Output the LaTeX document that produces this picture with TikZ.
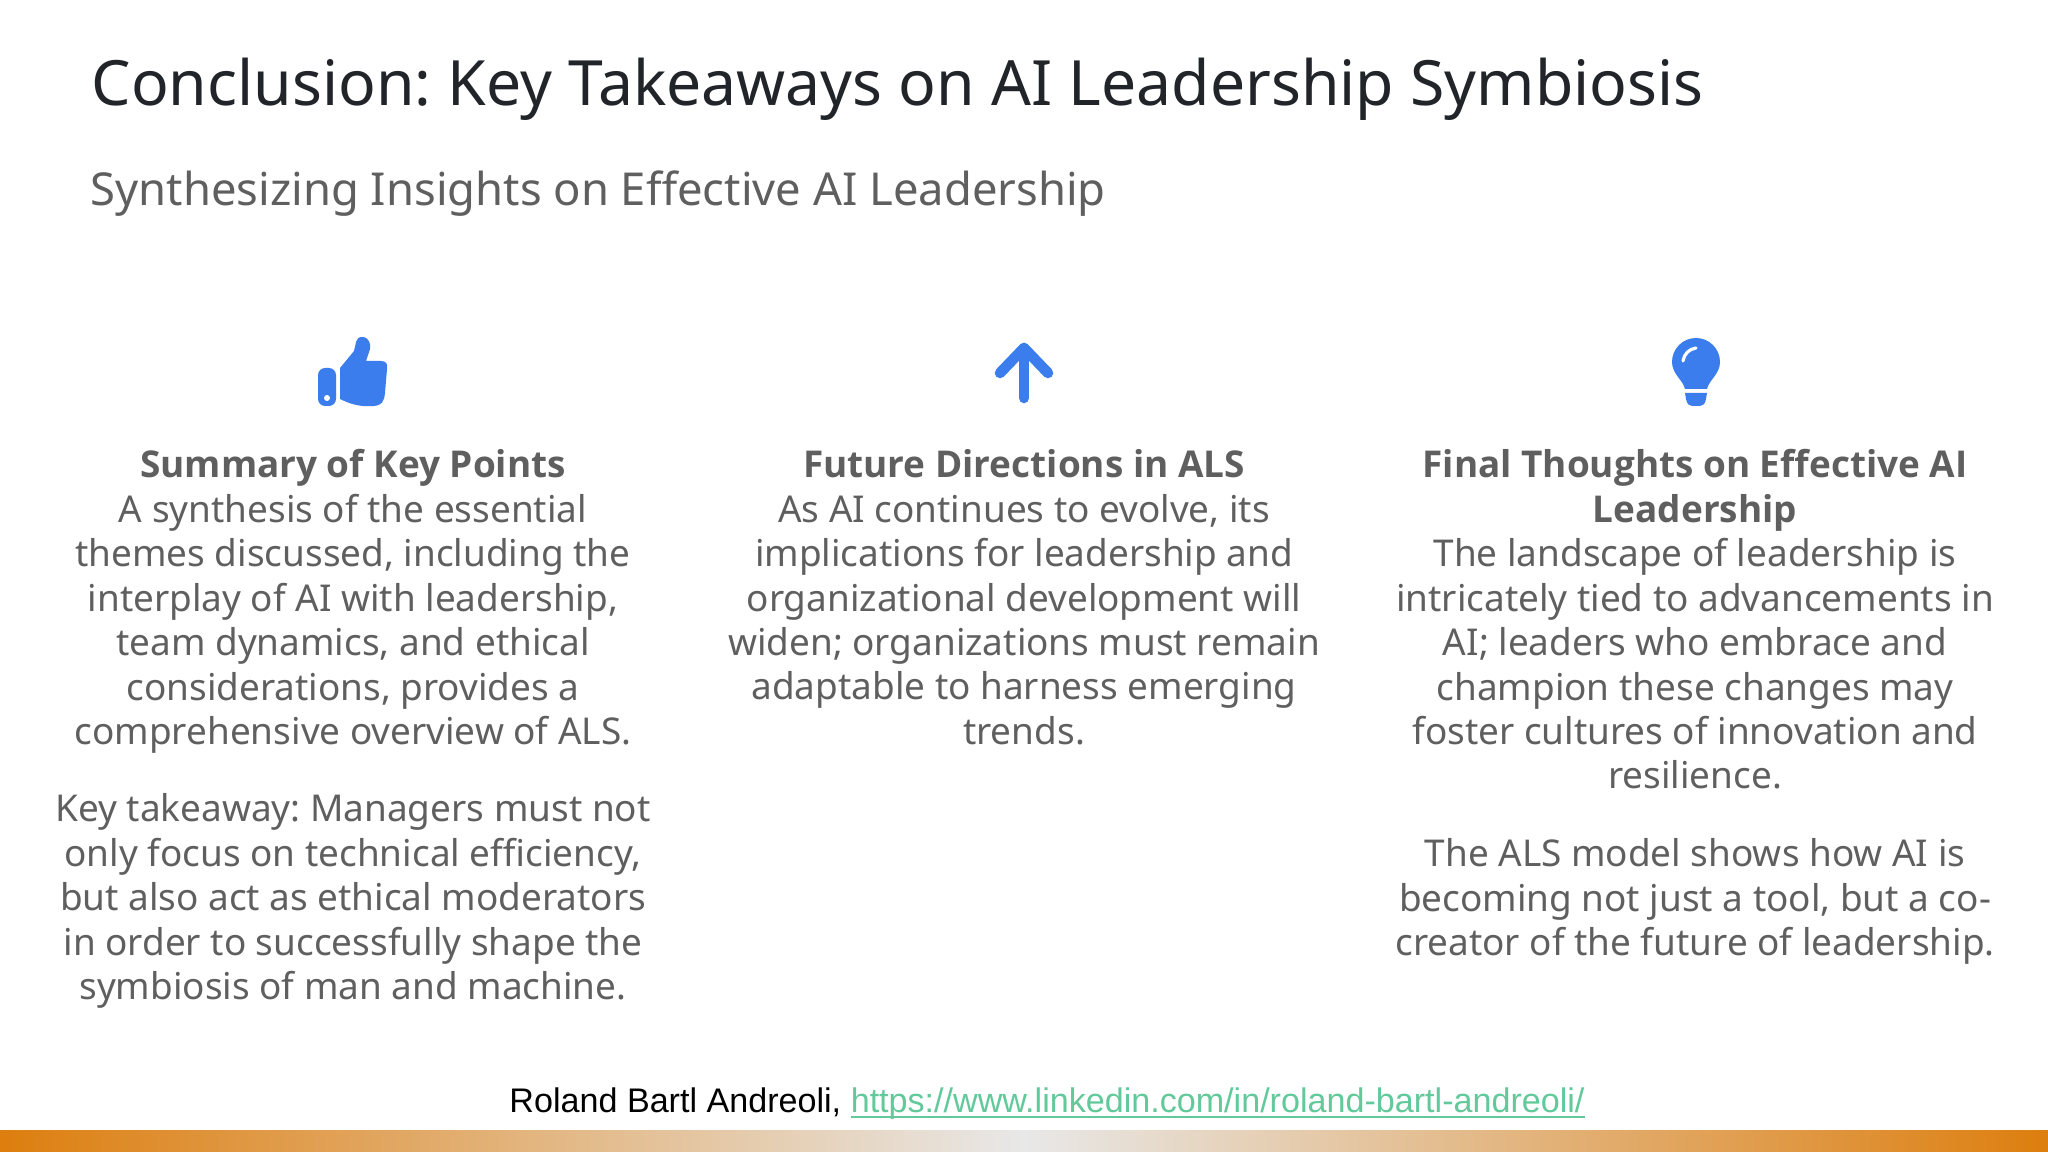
\documentclass[tikz,border=0pt]{standalone}
\usepackage{fontspec}
\setmainfont{Noto Sans}
\newfontfamily\headfont{Open Sans}
\newfontfamily\footfont{Liberation Sans}
\definecolor{title_c}{HTML}{212529}
\definecolor{body_c}{HTML}{5F5F5F}
\definecolor{icon_c}{HTML}{3B7DED}
\definecolor{link_c}{HTML}{62C99B}
\definecolor{band_c}{HTML}{DD7E0E}
\definecolor{mid_c}{HTML}{E8E8E8}
\usetikzlibrary{positioning}
\newcommand{\headline}[1]{{\headfont\bfseries #1}}
\frenchspacing

\begin{document}
\begin{tikzpicture}[
	x=0.01cm, y=-0.01cm,
	title/.style = {anchor=base west, inner sep=0pt, text=title_c, font=\fontsize{17.76}{20}\selectfont},
	subtitle/.style = {anchor=base west, inner sep=0pt, text=body_c, font=\fontsize{12.9}{16}\selectfont},
	body/.style = {anchor=north, inner sep=0pt, align=center, text=body_c, font=\fontsize{10.5}{12.63}\selectfont},
	icon/.style = {fill=icon_c, draw=none},
	]
	\useasboundingbox (0,0) rectangle (2048,1152);
	\fill[white] (0,0) rectangle (2048,1152);
	% header
	\node[title] (head) at (91,106) {Conclusion: Key Takeaways on AI Leadership Symbiosis};
	\node[subtitle] (sub) at (90,206) {Synthesizing Insights on Effective AI Leadership};
	% thumb
	\fill[icon, rounded corners=2pt] (318,368) rectangle (336,406);
	\fill[white] (327,398) circle(3);
	\fill[icon] (340,368) -- (354,351) .. controls (356,345) and (355,337) .. (362,337)
		.. controls (369,337) and (371,344) .. (370,349) -- (366,361) -- (381,361)
		.. controls (386,361) and (388,364) .. (387,369) -- (385,393)
		.. controls (384,402) and (382,405) .. (374,406)
		.. controls (362,407) and (352,405) .. (340,399) -- cycle;
	% arrow
	\draw[icon_c, line width=3pt, line cap=round, line join=round] (1024,398) -- (1024,348);
	\draw[icon_c, line width=3pt, line cap=round, line join=round] (1000,373) -- (1024,348) -- (1048,373);
	% bulb
	\fill[icon] (1685,389) .. controls (1683,380) and (1672,374) .. (1672,362)
		arc[start angle=180, end angle=360, radius=24]
		.. controls (1720,374) and (1709,380) .. (1707,389) -- cycle;
	\fill[icon] (1685,393) -- (1707,393) -- (1706,399) .. controls (1705,404) and (1703,406) .. (1700,406)
		-- (1692,406) .. controls (1689,406) and (1687,404) .. (1686,399) -- cycle;
	\draw[white, line width=0.9pt, line cap=round] (1683,361) .. controls (1684,354) and (1689,349) .. (1696,348);
	% columns
	\node[body] (left) at (353,449) {\headline{Summary of Key Points}\\A synthesis of the essential\\themes discussed, including the\\interplay of AI with leadership,\\team dynamics, and ethical\\considerations, provides a\\comprehensive overview of ALS.};
	\node[body] (takeaway) at (353,793) {Key takeaway: Managers must not\\only focus on technical efficiency,\\but also act as ethical moderators\\in order to successfully shape the\\symbiosis of man and machine.};
	\node[body] (mid) at (1024,449) {\headline{Future Directions in ALS}\\As AI continues to evolve, its\\implications for leadership and\\organizational development will\\widen; organizations must remain\\adaptable to harness emerging\\trends.};
	\node[body] (right) at (1695,449) {\headline{Final Thoughts on Effective AI}\\\headline{Leadership}\\The landscape of leadership is\\intricately tied to advancements in\\AI; leaders who embrace and\\champion these changes may\\foster cultures of innovation and\\resilience.};
	\node[body] (model) at (1695,838) {The ALS model shows how AI is\\becoming not just a tool, but a co-\\creator of the future of leadership.};
	% footer
	\node[anchor=base, inner sep=0pt, font=\footfont\fontsize{9.7}{12}\selectfont] (foot) at (1047,1112) {Roland Bartl Andreoli, \textcolor{link_c}{\underline{\smash{https://www.linkedin.com/in/roland-bartl-andreoli/}}}};
	\shade[left color=band_c, right color=band_c, middle color=mid_c, shading angle=90] (0,1130) rectangle (2048,1152);
\end{tikzpicture}
\end{document}
